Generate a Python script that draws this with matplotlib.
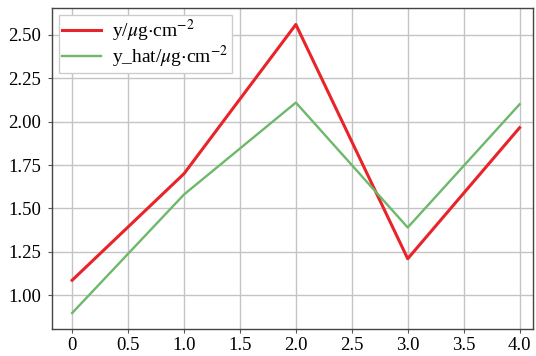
import matplotlib.pyplot as plt
import numpy as np

plt.rcParams['font.family'] = ['Liberation Serif', 'DejaVu Serif']
plt.rcParams['mathtext.fontset'] = 'stix'

x = [0, 1, 2, 3, 4]
y = [1.086, 1.70, 2.56, 1.21, 1.965]
y_hat = [0.897, 1.58, 2.11, 1.39, 2.10]

xticks = [0, 0.5, 1.0, 1.5, 2.0, 2.5, 3.0, 3.5, 4.0]
xtick_labels = ['0', '0.5', '1.0', '1.5', '2.0', '2.5', '3.0', '3.5', '4.0']
yticks = [1.00, 1.25, 1.50, 1.75, 2.00, 2.25, 2.50]

fig = plt.figure(figsize=(5.36, 3.56), dpi=100)
ax = fig.add_axes([52 / 536, 27 / 356, 481 / 536, 321 / 356])

ax.plot(x, y, color='#e8242a', lw=2.2, label=r'y/$\mu$g$\cdot$cm$^{-2}$')
ax.plot(x, y_hat, color='#6db86b', lw=1.7, label=r'y_hat/$\mu$g$\cdot$cm$^{-2}$')

ax.set_xlim(-0.18, 4.12)
ax.set_ylim(0.805, 2.655)
ax.set_xticks(xticks)
ax.set_xticklabels(xtick_labels)
ax.set_yticks(yticks)
ax.set_yticklabels(['%.2f' % v for v in yticks])
ax.tick_params(labelsize=13.5, color='#555555', length=3, width=0.8)
ax.tick_params(axis='x', pad=3)
ax.tick_params(axis='y', pad=5)
ax.grid(True, color='#c4c4c4', lw=1.0)
for s in ax.spines.values():
    s.set_color('#444444')
    s.set_linewidth(1.0)

leg = ax.legend(loc='upper left', fontsize=14, handlelength=2.0, borderpad=0.15,
                labelspacing=0.0, handletextpad=0.6, framealpha=1, fancybox=False,
                edgecolor='#cccccc', borderaxespad=0.35)

fig.savefig('out.png', dpi=100)
